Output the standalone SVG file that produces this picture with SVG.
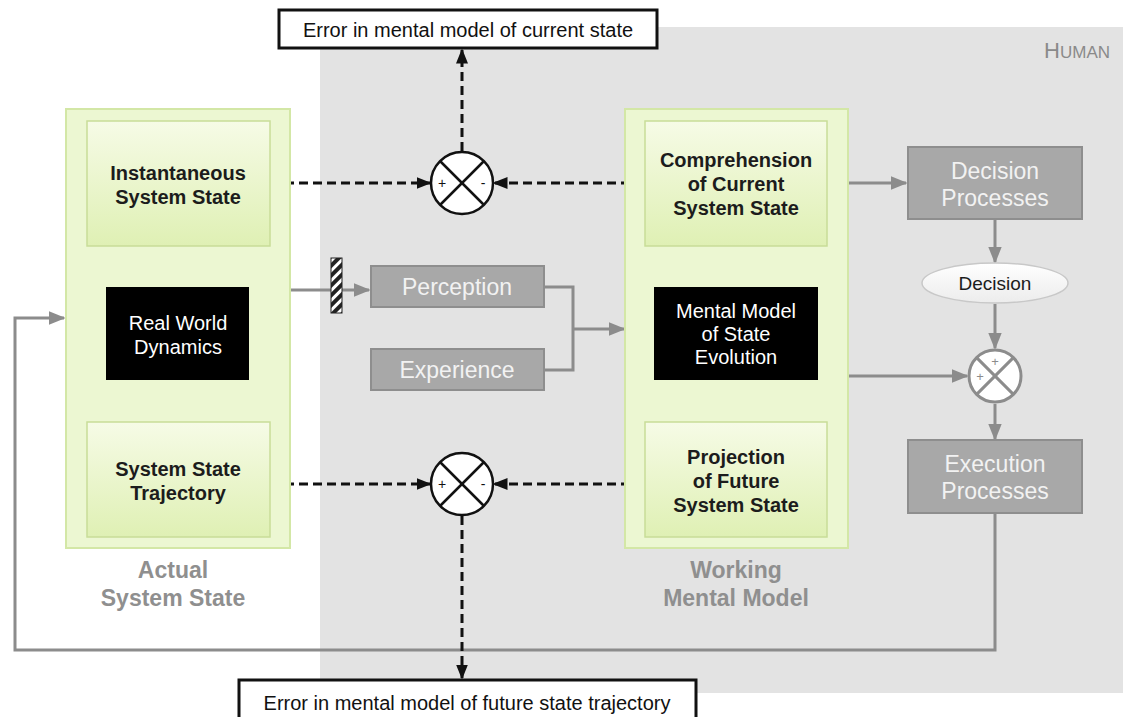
<svg xmlns="http://www.w3.org/2000/svg" width="1125" height="717" viewBox="0 0 1125 717">
  <defs>
    <linearGradient id="greenBox" x1="0" y1="0" x2="0" y2="1">
      <stop offset="0" stop-color="#f6fbe6"/>
      <stop offset="1" stop-color="#dff0b4"/>
    </linearGradient>
    <linearGradient id="pill" x1="0" y1="0" x2="0" y2="1">
      <stop offset="0" stop-color="#ffffff"/>
      <stop offset="1" stop-color="#ececec"/>
    </linearGradient>
    <marker id="arrBlack" viewBox="0 0 10 10" refX="9" refY="5" markerWidth="15" markerHeight="15" orient="auto" markerUnits="userSpaceOnUse">
      <path d="M0,1 L10,5 L0,9 z" fill="#111"/>
    </marker>
    <marker id="arrG" viewBox="0 0 10 10" refX="9" refY="5" markerWidth="17" markerHeight="17" orient="auto" markerUnits="userSpaceOnUse">
      <path d="M0,1 L10,5 L0,9 z" fill="#8c8c8c"/>
    </marker>
    <pattern id="hatch" width="7" height="7" patternUnits="userSpaceOnUse" patternTransform="rotate(45)">
      <rect width="7" height="7" fill="#fff"/>
      <rect width="4" height="7" fill="#222"/>
    </pattern>
  </defs>
  <style>
    text { font-family: "Liberation Sans", Arial, sans-serif; }
    .green-outer { fill: #ecf7d2; stroke: #d3e7a6; stroke-width: 2; }
    .green-inner { fill: url(#greenBox); stroke: #c8dd98; stroke-width: 1.5; }
    .black { fill: #000; }
    .gray-box { fill: #a8a8a8; stroke: #8e8e8e; stroke-width: 2; }
    .dark-label { font-size: 20px; font-weight: bold; fill: #1c1c1c; text-anchor: middle; }
    .white-label { font-size: 20px; fill: #fff; text-anchor: middle; }
    .gray-label { font-size: 23px; fill: #f2f2f2; text-anchor: middle; }
    .group-label { font-size: 23px; font-weight: bold; fill: #8f8f8f; text-anchor: middle; }
    .err-box { fill: #fff; stroke: #111; stroke-width: 3; }
    .err-label { font-size: 20px; fill: #111; text-anchor: middle; }
    .dashed { fill: none; stroke: #111; stroke-width: 3; stroke-dasharray: 9 5; marker-end: url(#arrBlack); }
    .gray-line { fill: none; stroke: #8c8c8c; stroke-width: 3; }
    .gray-arrow { fill: none; stroke: #8c8c8c; stroke-width: 3; marker-end: url(#arrG); }
    .sum { fill: #fff; stroke: #111; stroke-width: 2.5; }
    .sum-x { stroke: #111; stroke-width: 2.5; }
    .sum-gray { fill: #fff; stroke: #8c8c8c; stroke-width: 3; }
    .sum-gray-x { stroke: #8c8c8c; stroke-width: 3; }
    .sign { font-size: 14px; fill: #111; text-anchor: middle; }
    .sign-gray { font-size: 13px; fill: #8c8c8c; text-anchor: middle; }
  </style>

  <!-- human region backdrop -->
  <g id="human">
    <rect x="320" y="27" width="803" height="666" fill="#e3e3e3"/>
    <text x="1110" y="58" text-anchor="end" fill="#8a8a8a"><tspan font-size="22">H</tspan><tspan font-size="17">UMAN</tspan></text>
  </g>

  <!-- feedback loop and plain connectors drawn under the nodes -->
  <g id="connectors">
    <!-- execution back to the real world -->
    <path class="gray-arrow" d="M995,513 V650 H15 V318 H64"/>
    <!-- internal links of the actual system state -->
    <path class="gray-line" d="M178,246 V287"/>
    <path class="gray-arrow" d="M178,380 V421"/>
    <!-- internal links of the working mental model -->
    <path class="gray-line" d="M736,246 V287"/>
    <path class="gray-arrow" d="M736,380 V421"/>
    <!-- real world to perception -->
    <path class="gray-arrow" d="M291,290 H369"/>
    <!-- perception and experience feed the mental model -->
    <path class="gray-line" d="M544,287 H573 V370 H544"/>
    <path class="gray-arrow" d="M573,329 H624"/>
    <!-- right side flow -->
    <path class="gray-arrow" d="M848,183 H906"/>
    <path class="gray-arrow" d="M995,220 V262"/>
    <path class="gray-arrow" d="M995,304 V348"/>
    <path class="gray-arrow" d="M848,376 H967"/>
    <path class="gray-arrow" d="M995,404 V439"/>
    <!-- error comparisons -->
    <path class="dashed" d="M271,183 H430"/>
    <path class="dashed" d="M644,183 H494"/>
    <path class="dashed" d="M462,151 V50"/>
    <path class="dashed" d="M271,484 H430"/>
    <path class="dashed" d="M644,484 H494"/>
    <path class="dashed" d="M462,516 V678"/>
  </g>

  <g id="actual-system-state">
    <rect class="green-outer" x="66" y="109" width="224" height="439"/>
    <text class="group-label" x="173" y="578">Actual</text>
    <text class="group-label" x="173" y="606">System State</text>
  </g>
  <g id="instantaneous-state">
    <rect class="green-inner" x="87" y="121" width="183" height="125"/>
    <text class="dark-label" x="178" y="180">Instantaneous</text>
    <text class="dark-label" x="178" y="204">System State</text>
  </g>
  <g id="real-world-dynamics">
    <rect class="black" x="106" y="287" width="143" height="93"/>
    <text class="white-label" x="178" y="330">Real World</text>
    <text class="white-label" x="178" y="354">Dynamics</text>
  </g>
  <g id="state-trajectory">
    <rect class="green-inner" x="87" y="422" width="183" height="115"/>
    <text class="dark-label" x="178" y="476">System State</text>
    <text class="dark-label" x="178" y="500">Trajectory</text>
  </g>

  <g id="working-mental-model">
    <rect class="green-outer" x="625" y="109" width="223" height="439"/>
    <text class="group-label" x="736" y="578">Working</text>
    <text class="group-label" x="736" y="606">Mental Model</text>
  </g>
  <g id="comprehension">
    <rect class="green-inner" x="645" y="121" width="182" height="125"/>
    <text class="dark-label" x="736" y="167">Comprehension</text>
    <text class="dark-label" x="736" y="191">of Current</text>
    <text class="dark-label" x="736" y="215">System State</text>
  </g>
  <g id="state-evolution">
    <rect class="black" x="654" y="287" width="164" height="93"/>
    <text class="white-label" x="736" y="318">Mental Model</text>
    <text class="white-label" x="736" y="341">of State</text>
    <text class="white-label" x="736" y="364">Evolution</text>
  </g>
  <g id="projection">
    <rect class="green-inner" x="645" y="422" width="182" height="115"/>
    <text class="dark-label" x="736" y="464">Projection</text>
    <text class="dark-label" x="736" y="488">of Future</text>
    <text class="dark-label" x="736" y="512">System State</text>
  </g>

  <g id="filter">
    <rect x="331" y="258" width="11" height="55" fill="url(#hatch)" stroke="#222" stroke-width="1"/>
  </g>
  <g id="perception">
    <rect class="gray-box" x="371" y="266" width="173" height="41"/>
    <text class="gray-label" x="457" y="295">Perception</text>
  </g>
  <g id="experience">
    <rect class="gray-box" x="371" y="349" width="173" height="41"/>
    <text class="gray-label" x="457" y="378">Experience</text>
  </g>

  <g id="decision-processes">
    <rect class="gray-box" x="908" y="147" width="174" height="72"/>
    <text class="gray-label" x="995" y="179">Decision</text>
    <text class="gray-label" x="995" y="206">Processes</text>
  </g>
  <g id="decision">
    <ellipse cx="995" cy="283" rx="73" ry="20" fill="url(#pill)" stroke="#c8c8c8" stroke-width="1.5"/>
    <text x="995" y="290" font-size="19" fill="#1c1c1c" text-anchor="middle">Decision</text>
  </g>
  <g id="action-sum">
    <circle class="sum-gray" cx="995" cy="376" r="26"/>
    <line class="sum-gray-x" x1="976.6" y1="357.6" x2="1013.4" y2="394.4"/>
    <line class="sum-gray-x" x1="1013.4" y1="357.6" x2="976.6" y2="394.4"/>
    <text class="sign-gray" x="995" y="366">+</text>
    <text class="sign-gray" x="980" y="381">+</text>
  </g>
  <g id="execution-processes">
    <rect class="gray-box" x="908" y="440" width="174" height="73"/>
    <text class="gray-label" x="995" y="472">Execution</text>
    <text class="gray-label" x="995" y="499">Processes</text>
  </g>

  <g id="current-state-comparator">
    <circle class="sum" cx="462" cy="183" r="31"/>
    <line class="sum-x" x1="440" y1="161" x2="484" y2="205"/>
    <line class="sum-x" x1="484" y1="161" x2="440" y2="205"/>
    <text class="sign" x="442" y="188">+</text>
    <text class="sign" x="483" y="188">-</text>
  </g>
  <g id="trajectory-comparator">
    <circle class="sum" cx="462" cy="484" r="31"/>
    <line class="sum-x" x1="440" y1="462" x2="484" y2="506"/>
    <line class="sum-x" x1="484" y1="462" x2="440" y2="506"/>
    <text class="sign" x="442" y="489">+</text>
    <text class="sign" x="483" y="489">-</text>
  </g>

  <g id="current-state-error">
    <rect class="err-box" x="279" y="10" width="378" height="38"/>
    <text class="err-label" x="468" y="37">Error in mental model of current state</text>
  </g>
  <g id="trajectory-error">
    <rect class="err-box" x="239" y="680" width="457" height="45"/>
    <text class="err-label" x="467" y="710">Error in mental model of future state trajectory</text>
  </g>
</svg>
